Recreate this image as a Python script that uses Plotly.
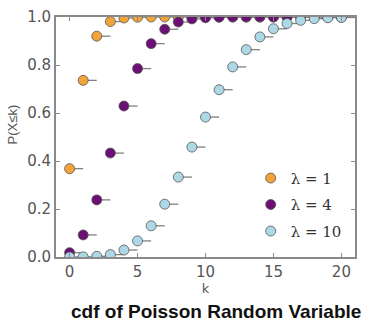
import plotly.graph_objects as go

k = list(range(0, 21))
cdf_l1 = [0.368, 0.736, 0.920, 0.981, 0.996, 0.999, 1.0, 1.0, 1.0, 1.0, 1.0,
          1.0, 1.0, 1.0, 1.0, 1.0, 1.0, 1.0, 1.0, 1.0, 1.0]
cdf_l4 = [0.018, 0.092, 0.238, 0.433, 0.629, 0.785, 0.889, 0.949, 0.979, 0.992, 0.997,
          0.999, 1.0, 1.0, 1.0, 1.0, 1.0, 1.0, 1.0, 1.0, 1.0]
cdf_l10 = [0.000, 0.0005, 0.003, 0.010, 0.029, 0.067, 0.130, 0.220, 0.333, 0.458, 0.583,
           0.697, 0.792, 0.864, 0.917, 0.951, 0.973, 0.986, 0.993, 0.997, 0.998]
series_names = ["λ = 1", "λ = 4", "λ = 10"]
series_colors = ["#F2A43A", "#6B0F75", "#ADD8E6"]
series_vals = [cdf_l1, cdf_l4, cdf_l10]

fig = go.Figure()

# horizontal step segments (k to k+1)
for vals in series_vals:
    xs, ys = [], []
    for kk, v in zip(k, vals):
        xs += [kk, kk + 1, None]
        ys += [v, v, None]
    fig.add_trace(go.Scatter(x=xs, y=ys, mode="lines",
                             line=dict(color="#808080", width=1.3),
                             showlegend=False, hoverinfo="skip"))

for i, (name, col, vals) in enumerate(zip(series_names, series_colors, series_vals)):
    fig.add_trace(go.Scatter(x=k, y=vals, mode="markers", name=name,
                             legendgroup=f"g{i}",
                             marker=dict(size=10, color=col,
                                         line=dict(color="#555555", width=0.8))))

axis_common = dict(showline=True, linecolor="#8a8a8a", linewidth=2, mirror="allticks",
                   ticks="inside", ticklen=4, tickcolor="#8a8a8a", tickwidth=1,
                   showgrid=False, zeroline=False,
                   tickfont=dict(family="DejaVu Sans", size=15, color="#555555"))

fig.update_xaxes(range=[-1, 21], tickvals=[0, 5, 10, 15, 20],
                 title=dict(text="k", font=dict(family="DejaVu Sans", size=13, color="#555555"),
                            standoff=1),
                 **axis_common)
fig.update_yaxes(range=[0, 1], tickvals=[0, 0.2, 0.4, 0.6, 0.8, 1.0], tickformat=".1f",
                 **axis_common)

L, R, T, B = 56, 8, 15, 65
W, H = 365, 322
pw, ph = W - L - R, H - T - B


def px_x(x):
    return (x - L) / pw


def px_y(y):
    return (T + ph - y) / ph


fig.update_layout(
    width=W, height=H,
    margin=dict(l=L, r=R, t=T, b=B),
    plot_bgcolor="white", paper_bgcolor="white",
    legend=dict(x=px_x(252), y=px_y(161),
                xanchor="left", yanchor="top",
                bgcolor="rgba(255,255,255,0)",
                font=dict(family="DejaVu Serif", size=15, color="#333333"),
                tracegroupgap=4, itemwidth=30),
    annotations=[
        dict(text="<b>cdf of Poisson Random Variable</b>",
             x=px_x(217.5), y=px_y(312), yanchor="middle", xanchor="center",
             xref="paper", yref="paper", showarrow=False,
             font=dict(family="Liberation Sans", size=19, color="#111111")),
        dict(text="P(X≤k)", textangle=-90,
             x=px_x(12), y=px_y(123), yanchor="middle", xanchor="center",
             xref="paper", yref="paper", showarrow=False,
             font=dict(family="Liberation Sans", size=13, color="#555555")),
    ],
)

fig.write_html("out.html", post_script="document.body.style.margin='0px';",
               config={"displayModeBar": False})
